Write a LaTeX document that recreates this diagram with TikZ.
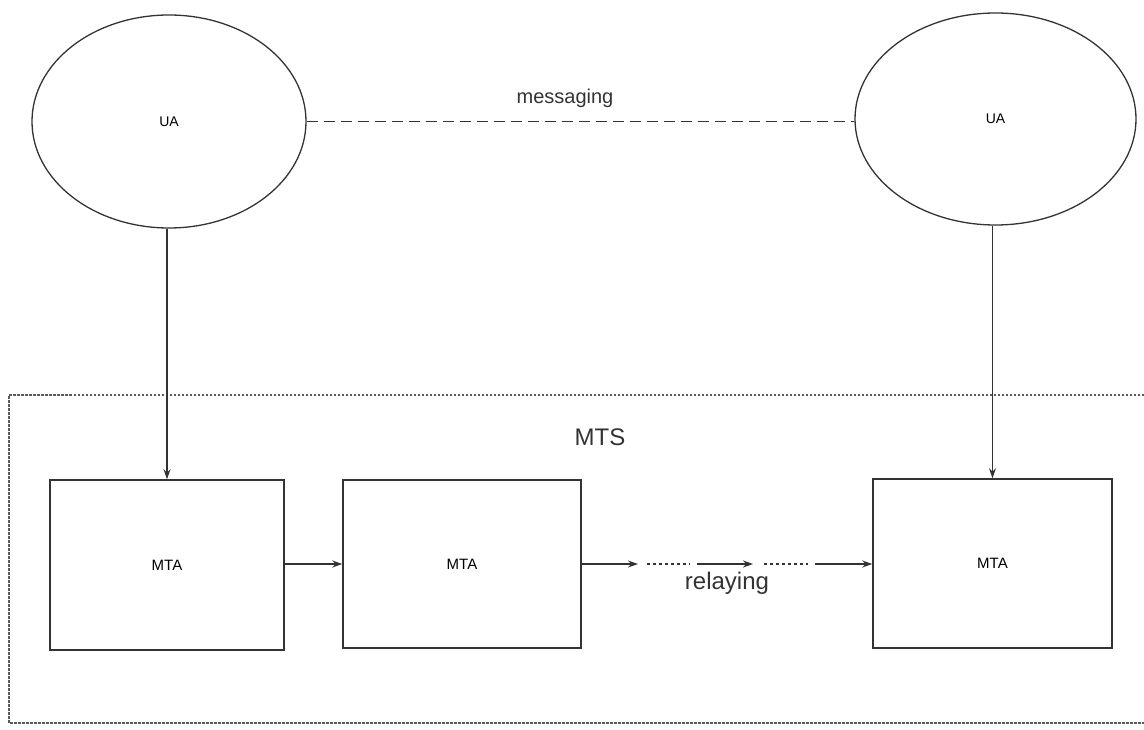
\documentclass[tikz,border=0pt]{standalone}
\usepackage{fontspec}
\setmainfont{Liberation Sans}
\usetikzlibrary{shapes.geometric,arrows.meta}
\definecolor{ink}{HTML}{333333}
\definecolor{dotc}{HTML}{5A5A5A}
\tikzset{
  uanode/.style={ellipse, draw=ink, line width=1.3pt, inner sep=0pt, font=\fontsize{14}{16}\selectfont},
  mtanode/.style={rectangle, draw=ink, line width=1.5pt, inner sep=0pt, font=\fontsize{15}{17}\selectfont},
  conn/.style={draw=ink, line width=1.5pt, -{Stealth[length=10pt,width=7pt]}},
  relaydots/.style={draw=ink, line width=1.5pt, dash pattern=on 3pt off 3pt},
  msgdash/.style={draw=ink, line width=1.7pt, dash pattern=on 11pt off 6pt},
  mtsframe/.style={draw=dotc, line width=1.2pt, dash pattern=on 2.5pt off 1.5pt},
  biglabel/.style={font=\fontsize{24}{28}\selectfont, text=ink},
  midlabel/.style={font=\fontsize{20}{24}\selectfont, text=ink}
}
\begin{document}
\begin{tikzpicture}[x=1pt,y=-1pt]
\useasboundingbox (0,0) rectangle (1144,730);
% MTS frame (open on the right, running past the edge)
\coordinate (fTR) at (1144,395);
\coordinate (fTL) at (9,395);
\coordinate (fBL) at (9,723);
\coordinate (fBR) at (1144,723);
\path[mtsframe] (fTR) -- (fTL) -- (fBL) -- (fBR);
\node[biglabel] (mts) at (600,437) {MTS};
% user agents
\node[uanode, minimum width=274pt, minimum height=213pt] (ua1) at (169,121.5) {UA};
\node[uanode, minimum width=281pt, minimum height=212pt] (ua2) at (995.5,119) {UA};
\path[msgdash] (ua1.east) -- (ua1.east -| ua2.west);
\node[midlabel] (msg) at (565,98) {messaging};
% message transfer agents
\node[mtanode, minimum width=234pt, minimum height=170pt] (mta1) at (167,565) {MTA};
\node[mtanode, minimum width=238pt, minimum height=168pt] (mta2) at (462,564) {MTA};
\node[mtanode, minimum width=239pt, minimum height=169pt] (mta3) at (992.5,563.5) {MTA};
% vertical submissions
\path[conn] (ua1.south -| mta1.north) -- (mta1.north);
\path[conn] (ua2.south -| mta3.north) -- (mta3.north);
% relaying chain
\coordinate (r1) at (638,564);
\coordinate (r2) at (647,564);
\coordinate (r3) at (690,564);
\coordinate (r4) at (697,564);
\coordinate (r5) at (753,564);
\coordinate (r6) at (764,564);
\coordinate (r7) at (808,564);
\coordinate (r8) at (815,564);
\path[conn] (mta1.east |- mta2.west) -- (mta2.west);
\path[conn] (mta2.east) -- (r1);
\path[relaydots] (r2) -- (r3);
\path[conn] (r4) -- (r5);
\path[relaydots] (r6) -- (r7);
\path[conn] (r8) -- (r8 -| mta3.west);
\node[biglabel] (relay) at (727,583) {relaying};
\end{tikzpicture}
\end{document}
